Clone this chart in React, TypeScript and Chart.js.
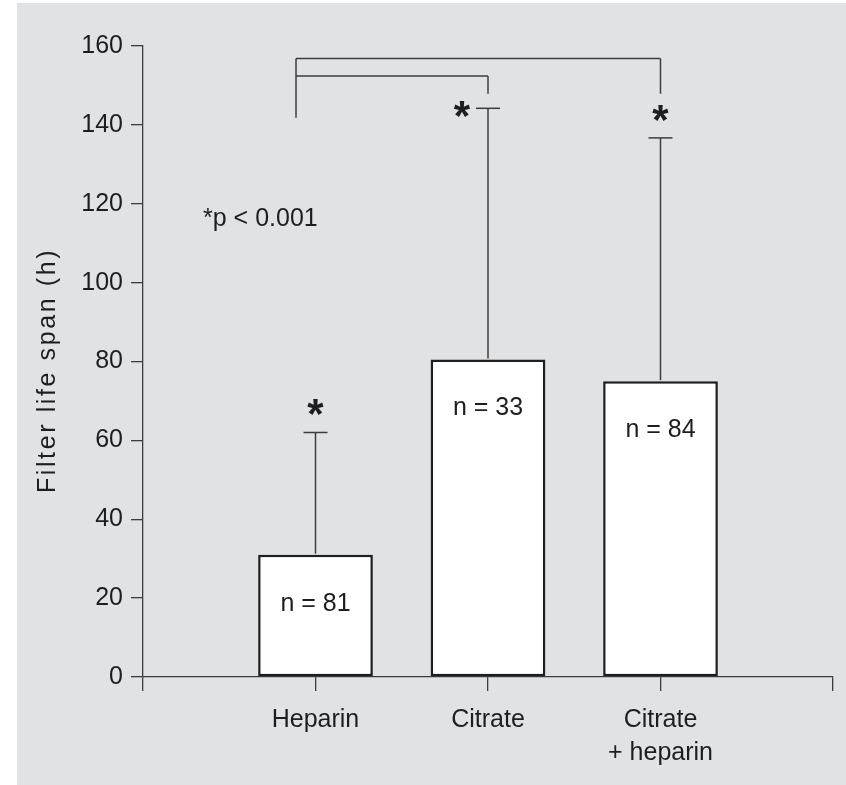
import React, { useEffect, useRef } from "react";
import { Chart, registerables } from "chart.js";

Chart.register(...registerables);

// ---- data ----
const categories: (string | string[])[] = ["", "Heparin", "Citrate", ["Citrate", "+ heparin"], ""];
const means: (number | null)[] = [null, 31, 80.5, 75, null];
const upperErr: (number | null)[] = [null, 62, 144.2, 136.7, null];
const groupSizes: (string | null)[] = [null, "n = 81", "n = 33", "n = 84", null];
const yTicks = { min: 0, max: 160, step: 20 };
const yTitle = "Filter life span (h)";
const pNote = "*p < 0.001";
// significance brackets (x in category units, y in hours)
const bracketLeftX = 0.887;
const bracketTopY = [156.8, 152.4];
const bracketTargets = [3, 2];
const bracketLegBottomY = 147.9;
const bracketLeftBottomY = 141.8;
const pNoteAt = { x: 0.348, y: 116 };

const FONT = "'Liberation Sans', Arial, sans-serif";
const TEXT = "#1e1e1e";
const LINE = "#3c3c3c";

const annotate = {
  id: "annotate",
  afterDatasetsDraw(chart: any) {
    const { ctx, scales } = chart;
    const x = scales.x;
    const y = scales.y;
    ctx.save();
    ctx.strokeStyle = LINE;
    ctx.lineWidth = 1.5;
    const seg = (x0: number, y0: number, x1: number, y1: number) => {
      ctx.beginPath();
      ctx.moveTo(x0, y0);
      ctx.lineTo(x1, y1);
      ctx.stroke();
    };
    const star = (cx: number, cy: number) => {
      ctx.font = `bold 42px ${FONT}`;
      ctx.textAlign = "center";
      ctx.textBaseline = "alphabetic";
      const m = ctx.measureText("*");
      const base = cy - (m.actualBoundingBoxDescent - m.actualBoundingBoxAscent) / 2;
      ctx.fillStyle = TEXT;
      ctx.fillText("*", cx, base);
    };
    means.forEach((m, i) => {
      if (m == null || upperErr[i] == null) return;
      const px = x.getPixelForValue(i);
      const y0 = y.getPixelForValue(m);
      const y1 = y.getPixelForValue(upperErr[i] as number);
      seg(px, y0 - 1, px, y1);
      seg(px - 12, y1, px + 12, y1);
      if (i === 2) star(px - 26, y1 + 1);
      else star(px, y1 - 25);
      // n label
      ctx.font = `25px ${FONT}`;
      ctx.fillStyle = TEXT;
      ctx.textAlign = "center";
      ctx.textBaseline = "middle";
      ctx.fillText(groupSizes[i], px, y0 + 49);
    });
    // brackets
    const lx = x.getPixelForValue(bracketLeftX);
    const topPx = y.getPixelForValue(bracketTopY[0]);
    seg(lx, topPx, lx, y.getPixelForValue(bracketLeftBottomY));
    bracketTopY.forEach((by, k) => {
      const py = y.getPixelForValue(by);
      const tx = x.getPixelForValue(bracketTargets[k]);
      seg(lx, py, tx, py);
      seg(tx, py, tx, y.getPixelForValue(bracketLegBottomY));
    });
    // p note
    ctx.font = `25px ${FONT}`;
    ctx.fillStyle = TEXT;
    ctx.textAlign = "left";
    ctx.textBaseline = "middle";
    ctx.fillText(pNote, x.getPixelForValue(pNoteAt.x), y.getPixelForValue(pNoteAt.y));
    // y title
    ctx.translate(48, (chart.chartArea.top + chart.chartArea.bottom) / 2 + 9);
    ctx.rotate(-Math.PI / 2);
    (ctx as any).letterSpacing = "2.6px";
    ctx.textAlign = "center";
    ctx.textBaseline = "middle";
    ctx.fillText(yTitle, 0, 0);
    ctx.restore();
  },
};

export default function App() {
  const ref = useRef<HTMLCanvasElement>(null);
  useEffect(() => {
    document.body.style.margin = "0";
    const canvas = ref.current!;
    const chart = new Chart(canvas, {
      type: "bar",
      data: {
        labels: categories as any,
        datasets: [
          {
            data: means as any,
            backgroundColor: "#ffffff",
            borderColor: "#1e1e1e",
            borderWidth: 2.5,
            borderSkipped: false,
            categoryPercentage: 1,
            barPercentage: 0.665,
          },
        ],
      },
      options: {
        responsive: false,
        animation: false,
        devicePixelRatio: 1,
        layout: { padding: { top: 46, right: 13, left: 0, bottom: 0 } },
        plugins: { legend: { display: false }, tooltip: { enabled: false } },
        scales: {
          x: {
            type: "category",
            offset: false,
            grid: {
              display: true,
              offset: false,
              drawOnChartArea: false,
              drawTicks: true,
              tickLength: 14,
              color: LINE,
              lineWidth: 1.3,
            },
            border: { display: true, color: LINE, width: 1.3 },
            ticks: {
              color: TEXT,
              font: { family: FONT, size: 25, lineHeight: 1.32 },
              padding: 13,
              maxRotation: 0,
              autoSkip: false,
            },
            afterFit: (s: any) => {
              s.height = 108;
            },
          },
          y: {
            min: yTicks.min,
            max: yTicks.max,
            grid: {
              display: true,
              drawOnChartArea: false,
              drawTicks: true,
              tickLength: 12,
              color: LINE,
              lineWidth: 1.3,
            },
            border: { display: true, color: LINE, width: 1.3 },
            ticks: {
              stepSize: yTicks.step,
              color: TEXT,
              font: { family: FONT, size: 25 },
              padding: 8,
            },
            afterFit: (s: any) => {
              s.width = 143;
            },
          },
        },
      },
      plugins: [annotate],
    });
    return () => chart.destroy();
  }, []);
  return (
    <div style={{ position: "relative", width: 846, height: 785, background: "#ffffff", overflow: "hidden" }}>
      <div style={{ position: "absolute", left: 17, top: 3, right: 0, bottom: 0, background: "#e1e2e4" }} />
      <canvas ref={ref} width={846} height={785} style={{ position: "absolute", left: 0, top: 0 }} />
    </div>
  );
}
